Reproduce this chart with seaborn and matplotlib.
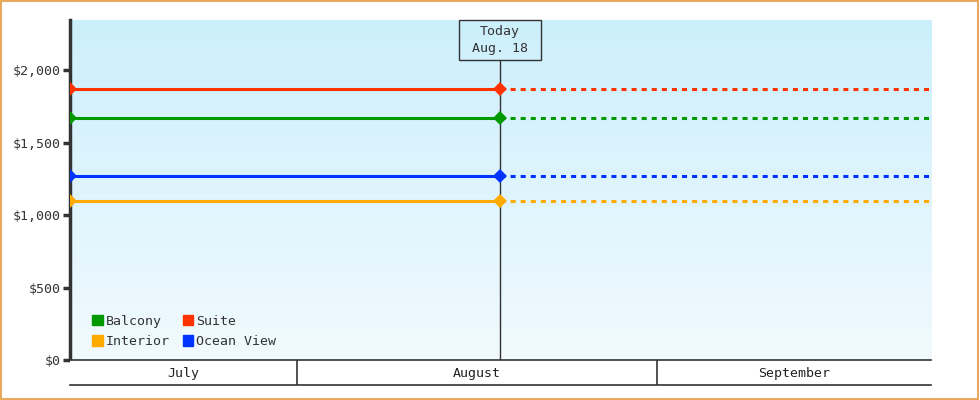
import numpy as np
import pandas as pd
import matplotlib
matplotlib.use('Agg')
import matplotlib.pyplot as plt
from matplotlib.patches import Patch, Rectangle
import seaborn as sns

# data
cabins = ['Balcony', 'Interior', 'Suite', 'Ocean View']
prices = [1669, 1099, 1869, 1269]
colors = ['#009900', '#ffaa00', '#ff3300', '#0033ff']
start_date = pd.Timestamp('2024-07-12 11:00')
today_date = pd.Timestamp('2024-08-18 12:00')
end_date = pd.Timestamp('2024-09-24 15:00')
months = ['July', 'August', 'September']
month_starts = [pd.Timestamp('2024-07-01'), pd.Timestamp('2024-08-01'), pd.Timestamp('2024-09-01'), pd.Timestamp('2024-10-01')]
yticks = [0, 500, 1000, 1500, 2000]

rows = []
for c, p in zip(cabins, prices):
    rows.append({'cabin': c, 'date': start_date, 'price': p})
    rows.append({'cabin': c, 'date': today_date, 'price': p})
past = pd.DataFrame(rows)
rows = []
for c, p in zip(cabins, prices):
    rows.append({'cabin': c, 'date': today_date, 'price': p})
    rows.append({'cabin': c, 'date': end_date, 'price': p})
future = pd.DataFrame(rows)
pal = dict(zip(cabins, colors))

sns.set_style('white')
plt.rcParams['font.family'] = ['DejaVu Sans Mono']
dark = '#333333'

fig = plt.figure(figsize=(9.8, 4), dpi=100)
ax = fig.add_axes([70/980, 40/400, 861/980, 340/400])

# gradient background
grad = np.linspace(0, 1, 256).reshape(-1, 1)
top = np.array([204, 239, 252]) / 255
bot = np.array([241, 250, 254]) / 255
img = top * (1 - grad[..., None]) + bot * grad[..., None]
ax.imshow(img, extent=[0, 1, 0, 1], transform=ax.transAxes, aspect='auto', zorder=0)

sns.lineplot(data=past, x='date', y='price', hue='cabin', palette=pal, lw=2.2,
             marker='D', markersize=7.5, markeredgewidth=0, legend=False, ax=ax, zorder=3)
sns.lineplot(data=future, x='date', y='price', hue='cabin', palette=pal, lw=2.2,
             legend=False, ax=ax, zorder=2)
for ln in ax.lines[len(cabins):]:
    ln.set_dashes((1.65, 1.65))

ax.set_xlim(start_date, end_date)
ax.set_ylim(0, 2345)
ax.set_yticks(yticks)
ax.yaxis.set_major_formatter(plt.FuncFormatter(lambda v, p: f'${v:,.0f}'))
ax.tick_params(axis='y', length=5, width=2.5, color=dark, labelsize=9.5, labelcolor=dark, pad=2, left=True)
ax.set_xticks([])
ax.set_xlabel('')
ax.set_ylabel('')
for s in ['top', 'right', 'bottom']:
    ax.spines[s].set_visible(False)
ax.spines['left'].set_color(dark)
ax.spines['left'].set_linewidth(2.5)

# today marker
ax.axvline(today_date, ymin=0, ymax=300/340, color=dark, lw=1, zorder=1)
ax.text(today_date, 1 - 20/340, 'Today\n Aug. 18 ', transform=ax.get_xaxis_transform(),
        ha='center', va='center', fontsize=9.5, color=dark, linespacing=1.45,
        bbox=dict(boxstyle='square,pad=0.35', fc='none', ec=dark, lw=1))

handles = [Patch(color=c, label=n) for n, c in zip(cabins, colors)]
ax.legend(handles=handles, ncol=2, loc='lower left', bbox_to_anchor=(0.012, 0.0),
          frameon=False, handlelength=0.8, handleheight=0.8, handletextpad=0.2,
          columnspacing=1.0, labelspacing=0.55, fontsize=9.5, labelcolor=dark)

# month band
ax2 = fig.add_axes([70/980, 15/400, 861/980, 25/400], sharex=ax)
ax2.set_ylim(0, 1)
ax2.set_yticks([])
ax2.tick_params(axis='x', bottom=False, labelbottom=False)
for s in ['left', 'right']:
    ax2.spines[s].set_visible(False)
for s in ['top', 'bottom']:
    ax2.spines[s].set_color(dark)
    ax2.spines[s].set_linewidth(1.2)
for m in month_starts[1:-1]:
    ax2.axvline(m, color=dark, lw=1.2)
for i, name in enumerate(months):
    a = max(month_starts[i], start_date)
    b = min(month_starts[i + 1], end_date)
    ax2.text(a + (b - a) / 2, 0.45, name, ha='center', va='center', fontsize=9.5, color='#222222')
ax2.set_xlim(start_date, end_date)

fig.add_artist(Rectangle((0.001, 0.002), 0.997, 0.996, transform=fig.transFigure,
                         fill=False, ec='#e8a860', lw=1.5))

fig.savefig('out.png', dpi=100)
